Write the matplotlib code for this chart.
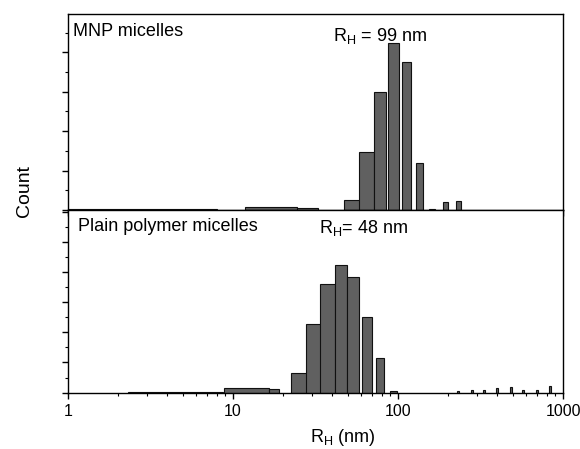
import matplotlib
matplotlib.use('Agg')
import matplotlib.pyplot as plt
from matplotlib.ticker import MultipleLocator, LogLocator, NullFormatter

plt.rcParams['font.family'] = ['Liberation Sans', 'DejaVu Sans']
plt.rcParams['mathtext.fontset'] = 'custom'
plt.rcParams['mathtext.rm'] = 'Liberation Sans'

# MNP micelles histogram (bin edges in nm, counts in arbitrary units)
mnp_lo = [1.0, 11.8, 24.4, 47.1, 58.0, 71.6, 86.9, 105.7, 128.5, 154, 187.4, 224.7]
mnp_hi = [8.0, 24.4, 32.7, 60.5, 71.6, 84.6, 101.4, 119.9, 141.8, 167.5, 201, 240.9]
mnp_count = [0.02, 0.085, 0.05, 0.25, 1.47, 3.0, 4.23, 3.76, 1.18, 0.03, 0.2, 0.24]

# plain polymer micelles histogram
plain_lo = [2.31, 8.8, 16.5, 22.5, 27.7, 33.7, 41.5, 49.3, 60.8, 73.9, 89.5,
            228, 277, 327, 392, 477, 564, 686, 822]
plain_hi = [8.7, 16.5, 19.0, 30.0, 35.3, 41.5, 49.3, 58.2, 69.5, 81.9, 98.2,
            234, 285, 337, 404, 491, 580, 706, 846]
plain_count = [0.03, 0.15, 0.12, 0.64, 2.27, 3.63, 4.24, 3.84, 2.52, 1.16, 0.05,
               0.04, 0.08, 0.08, 0.16, 0.19, 0.1, 0.08, 0.21]

fig = plt.figure(figsize=(5.8, 4.49), dpi=100)
ax1 = fig.add_axes([0.1172, 0.5323, 0.8535, 0.4365])
ax2 = fig.add_axes([0.1172, 0.1258, 0.8535, 0.4065])

bar_kw = dict(align='edge', color='#606060', edgecolor='#111111', linewidth=0.8)

def draw_hist(ax, lo, hi, counts, ymax, major):
    widths = [h - l for l, h in zip(lo, hi)]
    ax.bar(lo, counts, width=widths, **bar_kw)
    ax.set_xscale('log')
    ax.set_xlim(1, 1000)
    ax.set_ylim(0, ymax)
    ax.yaxis.set_major_locator(MultipleLocator(major))
    ax.yaxis.set_minor_locator(MultipleLocator(major / 2))
    ax.yaxis.set_major_formatter(NullFormatter())
    ax.xaxis.set_minor_locator(LogLocator(base=10, subs=range(2, 10)))
    ax.xaxis.set_minor_formatter(NullFormatter())
    ax.tick_params(which='major', length=4, width=1, direction='out')
    ax.tick_params(which='minor', length=2.5, width=0.8, direction='out')
    for s in ax.spines.values():
        s.set_linewidth(1.0)

draw_hist(ax1, mnp_lo, mnp_hi, mnp_count, 4.97, 1)
draw_hist(ax2, plain_lo, plain_hi, plain_count, 6.08, 1)

ax1.tick_params(labelbottom=False)
ax2.set_xticks([1, 10, 100, 1000])
ax2.set_xticklabels(['1', '10', '100', '1000'])
ax2.tick_params(axis='x', labelsize=11.5, pad=4)

ax1.text(0.01, 0.955, 'MNP micelles', transform=ax1.transAxes, fontsize=13, va='top', ha='left')
ax1.text(0.535, 0.94, r'R$_{\mathrm{H}}$ = 99 nm', transform=ax1.transAxes, fontsize=13, va='top', ha='left')
ax2.text(0.02, 0.955, 'Plain polymer micelles', transform=ax2.transAxes, fontsize=13, va='top', ha='left')
ax2.text(0.508, 0.955, r'R$_{\mathrm{H}}$= 48 nm', transform=ax2.transAxes, fontsize=13, va='top', ha='left')

ax2.set_xlabel(r'R$_{\mathrm{H}}$ (nm)', fontsize=13)
ax2.xaxis.set_label_coords(0.556, -0.19)
fig.text(25 / 580, 1 - 191 / 449, 'Count', rotation=90, ha='center', va='center', fontsize=14)

fig.savefig('out.png', dpi=100)
